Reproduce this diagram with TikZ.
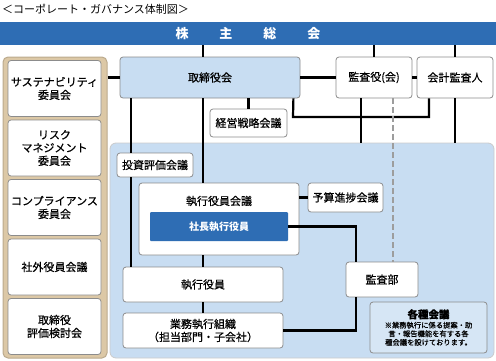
\documentclass[tikz,border=0pt]{standalone}
\usepackage{fontspec}
\setmainfont{Noto Sans CJK JP}
\newfontfamily\jpbox{Noto Sans CJK JP}[FakeBold=0.6]
\definecolor{sbblue}{HTML}{2E6DB4}
\definecolor{sblight}{HTML}{C8DDF2}
\definecolor{sbtan}{HTML}{DCC8A6}
\definecolor{sbgray}{HTML}{8C8C8C}
\usetikzlibrary{positioning, calc}

\begin{document}
\begin{tikzpicture}[x=1pt, y=-1pt,
  box/.style={rounded corners=3pt, draw=sbgray, fill=white, line width=0.8pt,
              inner sep=0pt, align=center, font=\jpbox\fontsize{11}{13}\selectfont},
  iinkai/.style={box, minimum width=93pt, minimum height=56pt},
  conn/.style={line width=2.2pt, black},
  dashline/.style={line width=2.6pt, sbgray!85, dash pattern=on 6pt off 3pt}
]
  \useasboundingbox (0,0) rectangle (496,360);

  % Title and banner
  \node[anchor=west, inner sep=0pt, font=\fontsize{11}{13}\selectfont] (title) at (2,9) {＜コーポレート・ガバナンス体制図＞};
  \node[fill=sbblue, minimum width=496pt, minimum height=23pt, inner sep=0pt, text=white,
        font=\bfseries\fontsize{13}{15}\selectfont] (sh) at (248,33.5) {株\hspace{31pt}主\hspace{31pt}総\hspace{31pt}会};

  % Committees (left)
  \node[draw=sbtan!85!black, fill=sbtan, line width=1pt, rounded corners=5pt,
        minimum width=104pt, minimum height=301pt] (lc) at (55,207.5) {};
  \node[iinkai] (c1) at (54.5,88.5) {サステナビリティ\\委員会};
  \node[iinkai] (c2) at (54.5,148) {リスク\\マネジメント\\委員会};
  \node[iinkai] (c3) at (54.5,207.5) {コンプライアンス\\委員会};
  \node[iinkai] (c4) at (54.5,267) {社外役員会議};
  \node[iinkai] (c5) at (54.5,326.5) {取締役\\評価検討会};

  % Board and auditors
  \node[box, fill=sblight, minimum width=180pt, minimum height=41pt] (tb) at (210,77.5) {取締役会};
  \node[box, minimum width=76pt, minimum height=41pt] (ka) at (374,77.5) {監査役(会)};
  \node[box, minimum width=76pt, minimum height=41pt] (kk) at (455,77.5) {会計監査人};
  \node[box, minimum width=77pt, minimum height=28pt] (keiei) at (248.5,123) {経営戦略会議};

  % Execution area
  \node[fill=sblight, draw=sbgray!45, line width=0.8pt, rounded corners=6pt,
        minimum width=384pt, minimum height=215pt] (area) at (302,250.5) {};
  \node[box, minimum width=76pt, minimum height=24pt] (toushi) at (155,165) {投資評価会議};
  \node[box, minimum width=160pt, minimum height=72pt] (skk) at (219,219) {};
  \node[inner sep=0pt, font=\jpbox\fontsize{11}{13}\selectfont] (skkt) at (219,201) {執行役員会議};
  \node[rounded corners=1pt, fill=sbblue, minimum width=138pt, minimum height=29pt, inner sep=0pt,
        text=white, font=\bfseries\fontsize{10}{12}\selectfont] (shacho) at (219,226.5) {社長執行役員};
  \node[box, minimum width=75pt, minimum height=29pt] (yosan) at (345.5,197.5) {予算進捗会議};
  \node[box, minimum width=160pt, minimum height=35pt] (yakuin) at (203,284.5) {執行役員};
  \node[box, minimum width=160pt, minimum height=35pt] (soshiki) at (203,330.5) {業務執行組織\\（担当部門・子会社）};
  \node[box, minimum width=72pt, minimum height=35pt] (kansabu) at (382,279.5) {監査部};
  \node[box, fill=sblight!75!white, minimum width=117pt, minimum height=51pt,
        font=\jpbox\fontsize{7.3}{8.6}\selectfont] (kakushu) at (428.5,327.5)
    {\bfseries\fontsize{10.5}{12}\selectfont 各種会議\\[1pt]
     ※業務執行に係る提案・助\\言・報告機能を有する各\\種会議を設けております。};

  % Lines
  \draw[conn] (sh.south -| yakuin) -- (tb.north -| yakuin);
  \draw[conn] (sh.south -| ka) -- (ka);
  \draw[conn] (sh.south -| kk) -- (kk);
  \draw[conn] (lc.east |- tb) -- (tb.west);
  \draw[conn] (tb.east) -- (ka.west);
  \draw[conn] (ka.east) -- (kk.west);
  \draw[conn] (tb.south -| keiei) -- (keiei);
  \coordinate (kj) at (293,117);
  \draw[conn] ([xshift=-7pt]tb.south east) -- (kj) -| ([xshift=-26pt]kk.south);
  \draw[conn] ([xshift=-13pt]ka.south) -- ([xshift=-13pt]ka.south |- area.north);
  \draw[conn] (kk.south) -- (kk.south |- area.north);
  \draw[conn] ([xshift=14pt]toushi.north west |- tb.south) -- ([xshift=14pt]toushi.north west);
  \draw[conn] ([xshift=14pt]toushi.south west) -- ([xshift=14pt]toushi.south west |- yakuin.north);
  \draw[conn] (tb.south -| yakuin) -- (skk.north -| yakuin);
  \draw[conn] (skk.south -| yakuin) -- (yakuin);
  \draw[conn] (yakuin) -- (soshiki);
  \draw[conn] (yosan.west -| skk.east) -- (yosan.west);
  \draw[conn] (shacho.east) -| ([xshift=-26pt]kansabu.north);
  \draw[conn] ([xshift=-26pt]kansabu.south) |- (soshiki.east);
  \draw[dashline] ([xshift=19pt]ka.south) -- ([xshift=19pt]ka.south |- kansabu.north);
\end{tikzpicture}
\end{document}
